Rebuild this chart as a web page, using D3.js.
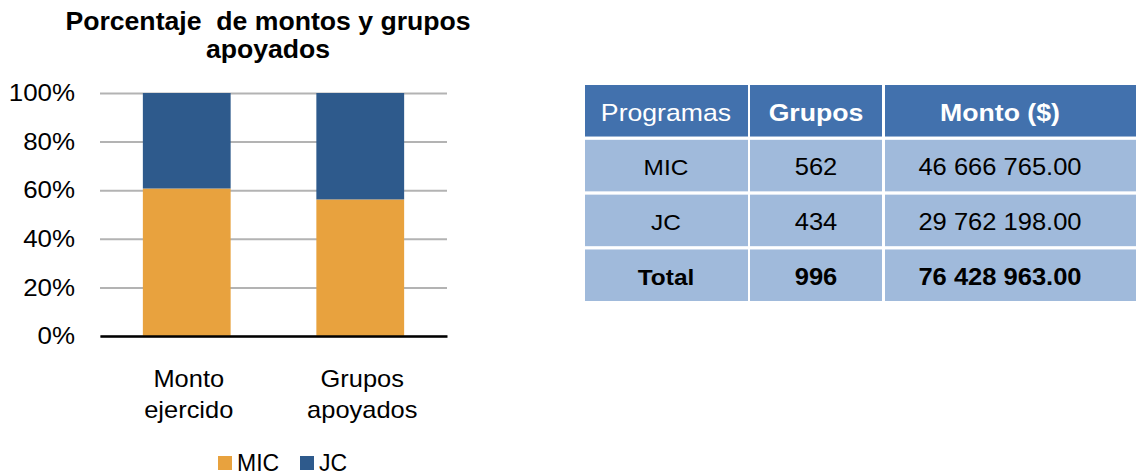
<!DOCTYPE html>
<html>
<head>
<meta charset="utf-8">
<script src="https://cdn.jsdelivr.net/npm/d3@7"></script>
<style>
  body { margin: 0; background: #fff; }
  svg { display: block; font-family: "Liberation Sans", Arial, sans-serif; }
  .y.axis text { font-size: 24px; fill: #000; }
  .y.axis line { stroke: #b3b3b3; stroke-width: 2; }
  .y.axis .domain { display: none; }
  .x.axis .domain { stroke: #000; stroke-width: 2.5; }
  .x.axis text { font-size: 24px; fill: #000; }
</style>
</head>
<body>
<script>
// Daten
var categorias = ["Monto ejercido", "Grupos apoyados"];
var series = ["MIC", "JC"];
var micPct = [60.7, 56.2];
var jcPct = [39.3, 43.8];
var yTicks = [0, 20, 40, 60, 80, 100];

// Tabelle
var encabezados = ["Programas", "Grupos", "Monto ($)"];
var programas = ["MIC", "JC", "Total"];
var grupos = ["562", "434", "996"];
var montos = ["46 666 765.00", "29 762 198.00", "76 428 963.00"];

var colores = {MIC: "#e8a23e", JC: "#2e5a8c"};

// Text horizontal strecken (Original ist etwas breiter)
function estirar(sel, s) {
  sel.attr("transform", function () {
    var x = +this.getAttribute("x") || 0;
    return "translate(" + x + ",0) scale(" + s + ",1) translate(" + (-x) + ",0)";
  });
}

var svg = d3.select("body").append("svg")
  .attr("width", 1136)
  .attr("height", 476);

// Titel
svg.append("text")
  .attr("x", 268).attr("y", 30)
  .attr("text-anchor", "middle")
  .style("font-size", "25px").style("font-weight", "bold")
  .style("white-space", "pre")
  .text("Porcentaje  de montos y grupos")
  .call(estirar, 1.065);
svg.append("text")
  .attr("x", 268).attr("y", 58)
  .attr("text-anchor", "middle")
  .style("font-size", "25px").style("font-weight", "bold")
  .text("apoyados")
  .call(estirar, 1.065);

// Skalen
var xScale = d3.scaleBand()
  .domain(categorias)
  .range([100, 447])
  .paddingInner(0.494)
  .paddingOuter(0.247);

var yScale = d3.scaleLinear()
  .domain([0, 100])
  .range([336, 93]);

// Y Achse mit Gitterlinien
var yAxis = svg.append("g")
  .attr("class", "y axis")
  .attr("transform", "translate(100,0)")
  .call(d3.axisLeft(yScale)
    .tickValues(yTicks)
    .tickSize(-347)
    .tickPadding(25)
    .tickFormat(function (d) { return d + "%"; }));
yAxis.selectAll(".tick text").call(estirar, 1.08);

// gestapelte Balken
var filas = categorias.map(function (c, i) { return {cat: c, MIC: micPct[i], JC: jcPct[i]}; });
var stack = d3.stack().keys(series)(filas);

svg.append("g").selectAll("g")
  .data(stack)
  .join("g")
  .attr("fill", function (d) { return colores[d.key]; })
  .selectAll("rect")
  .data(function (d) { return d; })
  .join("rect")
  .attr("x", function (d) { return xScale(d.data.cat); })
  .attr("width", xScale.bandwidth())
  .attr("y", function (d) { return yScale(d[1]); })
  .attr("height", function (d) { return yScale(d[0]) - yScale(d[1]); });

// X Achse
var xAxis = svg.append("g")
  .attr("class", "x axis")
  .attr("transform", "translate(0,336)")
  .call(d3.axisBottom(xScale).tickSize(0).tickSizeOuter(0).tickPadding(0));

xAxis.selectAll(".tick text")
  .each(function (d) {
    var t = d3.select(this).text(null).attr("x", 2).attr("y", 0).attr("dy", null);
    d.split(" ").forEach(function (w, i) {
      t.append("tspan").attr("x", 2).attr("y", 51 + i * 31).text(w);
    });
  })
  .call(estirar, 1.06);

// Legende
var legende = svg.append("g").selectAll("g")
  .data(series)
  .join("g")
  .attr("transform", function (d, i) { return "translate(" + (218 + i * 82) + ",456)"; });
legende.append("rect")
  .attr("width", 14).attr("height", 14)
  .attr("fill", function (d) { return colores[d]; });
legende.append("text")
  .attr("x", 19).attr("y", 15)
  .style("font-size", "23px")
  .text(function (d) { return d; });

// Tabelle zeichnen
var filasTabla = ["head"].concat(programas);
var yFila = d3.scaleBand()
  .domain(filasTabla)
  .range([85, 301])
  .paddingInner(0.06);

var colIzq = [585, 750, 885];
var colAncho = [163, 132, 251];
var colCentro = [666, 816, 1000];

var celdas = [];
filasTabla.forEach(function (f, r) {
  var textos = r === 0 ? encabezados : [programas[r - 1], grupos[r - 1], montos[r - 1]];
  textos.forEach(function (t, c) {
    celdas.push({fila: f, r: r, c: c, texto: t});
  });
});

var tabla = svg.append("g");
tabla.selectAll("rect")
  .data(celdas)
  .join("rect")
  .attr("x", function (d) { return colIzq[d.c]; })
  .attr("width", function (d) { return colAncho[d.c]; })
  .attr("y", function (d) { return yFila(d.fila); })
  .attr("height", yFila.bandwidth())
  .attr("fill", function (d) { return d.r === 0 ? "#4271ad" : "#a0badb"; });

tabla.selectAll("text")
  .data(celdas)
  .join("text")
  .attr("x", function (d) { return colCentro[d.c]; })
  .attr("y", function (d) { return yFila(d.fila) + yFila.bandwidth() / 2; })
  .attr("dy", "0.43em")
  .attr("text-anchor", "middle")
  .attr("fill", function (d) { return d.r === 0 ? "#fff" : "#000"; })
  .style("font-size", function (d) {
    if (d.r === 0) return "24px";
    return d.c === 0 ? "22px" : "23px";
  })
  .style("font-weight", function (d) {
    if (d.r === 0) return d.c === 0 ? "normal" : "bold";
    return d.r === 3 ? "bold" : "normal";
  })
  .text(function (d) { return d.texto; })
  .call(estirar, 1.11);
</script>
</body>
</html>
